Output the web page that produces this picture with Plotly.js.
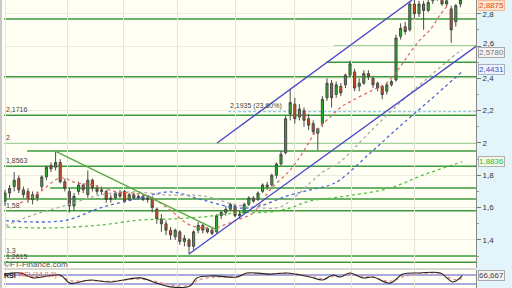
<!DOCTYPE html>
<html><head><meta charset="utf-8">
<script src="https://cdn.plot.ly/plotly-3.0.1.min.js"></script>
<style>html,body{margin:0;padding:0;background:#e3f5fb;}#c{width:512px;height:288px;}</style>
</head><body><div id="c"></div>
<script>
// ---- candle data (index = session) ----
const openP  = [1.64,1.69,1.73,1.78,1.71,1.70,1.65,1.68,1.73,1.79,1.86,1.85,1.88,1.76,1.70,1.61,1.70,1.74,1.68,1.77,1.72,1.70,1.70,1.65,1.66,1.69,1.70,1.65,1.68,1.66,1.67,1.65,1.66,1.59,1.53,1.50,1.46,1.42,1.45,1.39,1.40,1.36,1.46,1.49,1.47,1.46,1.45,1.55,1.57,1.59,1.61,1.55,1.57,1.62,1.66,1.65,1.70,1.74,1.74,1.80,1.87,1.94,2.18,2.24,2.16,2.20,2.15,2.12,2.06,2.12,2.28,2.37,2.30,2.35,2.36,2.42,2.44,2.35,2.37,2.43,2.40,2.37,2.35,2.32,2.36,2.39,2.66,2.72,2.70,2.86,2.80,2.86,2.82,2.88,2.92,2.90,2.86,2.83,2.75,2.86];
const highP  = [1.71,1.74,1.82,1.80,1.73,1.72,1.70,1.70,1.80,1.86,1.88,1.95,1.90,1.78,1.72,1.69,1.76,1.75,1.83,1.78,1.74,1.73,1.71,1.68,1.70,1.71,1.71,1.69,1.69,1.68,1.68,1.67,1.67,1.60,1.56,1.52,1.48,1.47,1.46,1.43,1.41,1.46,1.51,1.50,1.48,1.47,1.56,1.58,1.61,1.63,1.62,1.58,1.63,1.67,1.67,1.70,1.75,1.76,1.81,1.88,1.95,2.17,2.33,2.28,2.24,2.22,2.18,2.14,2.09,2.29,2.40,2.39,2.38,2.37,2.43,2.51,2.46,2.40,2.45,2.45,2.41,2.38,2.36,2.37,2.39,2.67,2.74,2.75,2.88,2.89,2.88,2.88,2.90,2.95,2.96,2.92,2.90,2.85,2.86,2.90];
const lowP   = [1.61,1.66,1.70,1.69,1.66,1.63,1.62,1.64,1.71,1.77,1.82,1.83,1.75,1.70,1.57,1.58,1.68,1.69,1.66,1.70,1.68,1.68,1.63,1.63,1.65,1.66,1.63,1.64,1.65,1.65,1.64,1.63,1.57,1.50,1.45,1.43,1.40,1.40,1.37,1.36,1.31,1.34,1.44,1.44,1.44,1.43,1.44,1.53,1.55,1.58,1.54,1.53,1.56,1.61,1.63,1.64,1.69,1.71,1.73,1.78,1.86,1.93,2.14,2.12,2.14,2.10,2.08,2.05,1.955,2.10,2.26,2.22,2.28,2.29,2.34,2.41,2.32,2.32,2.36,2.39,2.34,2.32,2.27,2.30,2.35,2.38,2.64,2.67,2.69,2.77,2.78,2.70,2.81,2.86,2.88,2.85,2.84,2.62,2.72,2.84];
const closeP = [1.69,1.72,1.77,1.71,1.68,1.65,1.68,1.66,1.79,1.85,1.84,1.88,1.76,1.72,1.61,1.67,1.74,1.71,1.77,1.72,1.70,1.71,1.65,1.66,1.69,1.67,1.64,1.68,1.66,1.67,1.65,1.66,1.60,1.53,1.50,1.46,1.43,1.46,1.39,1.41,1.36,1.45,1.49,1.46,1.45,1.44,1.55,1.57,1.59,1.62,1.55,1.56,1.62,1.66,1.64,1.69,1.74,1.73,1.80,1.87,1.93,2.15,2.25,2.15,2.21,2.14,2.11,2.07,2.09,2.27,2.37,2.28,2.36,2.31,2.42,2.49,2.34,2.37,2.43,2.41,2.36,2.34,2.30,2.36,2.38,2.65,2.71,2.69,2.86,2.80,2.86,2.82,2.87,2.92,2.90,2.86,2.88,2.70,2.85,2.8875];

// ---- moving averages (sampled readings: session index, value) ----
const maRedX  = [3.3,7.6,12.0,15.7,19.1,24.3,27.8,31.5,35.9,40.2,45.2,50.4,53.9,57.6,62.0,64.8,67.8,70.7,72.8,75.7,80.0,83.0,85.9,88.0,90.2,92.4,94.6,96.3];
const maRedY  = [1.628,1.697,1.783,1.752,1.740,1.697,1.690,1.666,1.585,1.492,1.474,1.523,1.567,1.709,1.833,1.944,2.080,2.161,2.217,2.266,2.328,2.372,2.471,2.557,2.638,2.700,2.793,2.854];
const maGreyX = [-1.1,6.1,13.5,20.7,27.8,35.2,43.0,50.4,55.4,59.8,63.5,66.3,69.1,72.8,79.3,86.5,92.4,98.5,99.4];
const maGreyY = [1.474,1.554,1.616,1.678,1.697,1.678,1.672,1.616,1.598,1.604,1.678,1.752,1.820,1.882,2.068,2.266,2.415,2.560,2.578];
const maBlueX = [-1.1,6.1,13.5,20.7,29.4,35.9,43.0,50.4,55.4,61.3,66.3,70.7,72.8,79.4,85.9,92.4,99.4];
const maBlueY = [1.523,1.511,1.523,1.598,1.659,1.697,1.647,1.598,1.610,1.672,1.709,1.740,1.771,1.938,2.105,2.266,2.4431];
const maGreenX = [0.4,9.8,20.7,29.4,35.9,43.0,50.4,57.6,62.0,66.3,72.8,83.7,90.9,99.4];
const maGreenY = [1.480,1.474,1.492,1.523,1.529,1.542,1.567,1.573,1.598,1.641,1.666,1.721,1.802,1.8836];

// ---- RSI panel ----
const rsiX = [-1.1,3.3,6.1,12,14.1,18.5,22.8,29.3,33,35.9,40.2,41.7,45.2,50.4,52.6,57.6,61.3,66.3,69.1,71.3,72.8,75,77.8,80,83.7,86.5,90.2,94.6,97.4,99.4];
const rsiY = [70,79,57,70,34,48,39,57,34,17,21,57,66,61,79,74,79,61,48,70,61,79,57,61,34,74,79,79,39,66.667];
const sigY = [72,75,63,66,45,45,42,52,40,25,24,45,60,63,72,75,77,66,54,64,63,73,62,60,42,62,75,77,50,55];
const rsiLevels = [70,30];

// ---- levels & trendlines ----
const fullLevels = [2.768,2.41,2.1716,1.8563,1.653,1.58,1.3,1.2615];
const lightLevels = [2.0];
const partLevels = [2.6,2.5,1.95,1.721];
const partStart  = [71.5,69.8,4.8,9.8];
const partLight  = [true,false,false,false];
const levelLabels = ['2,1716','2','1,8563','1,58','1,3','1,2615'];
const levelLabelVals = [2.1716,2.0,1.8563,1.58,1.3,1.2615];
const fibLevel = 2.1935, fibStart = 48.5, fibText = '2,1935 (23,60%)';
const chanUpperX = [46.1,88.5], chanUpperY = [2.0,2.885];
const chanLowerX = [40.0,102.4], chanLowerY = [1.313,2.598];
const downTrendX = [10.9,46.1], downTrendY = [1.95,1.461];
const monthTicks = [0.2,13.5,25.7,37.4,50.2,63.0,75.4,89.1];
const yTicks = [1.4,1.6,1.8,2.0,2.2,2.4,2.6,2.8];
const yTickText = ['1,4','1,6','1,8','2','2,2','2,4','','2,8'];

const idx = closeP.map((_, i) => i);
const XR = [-0.217, 102.39];
const dash = '3px,3px';
const traces = [
  {type:'scatter',mode:'lines',x:maGreenX,y:maGreenY,line:{color:'#55c044',width:1.3,dash:dash,shape:'spline'},hoverinfo:'skip'},
  {type:'scatter',mode:'lines',x:maBlueX,y:maBlueY,line:{color:'#4a66dd',width:1.3,dash:dash,shape:'spline'},hoverinfo:'skip'},
  {type:'scatter',mode:'lines',x:maGreyX,y:maGreyY,line:{color:'#aaaaaa',width:1.3,dash:dash,shape:'spline'},hoverinfo:'skip'},
  {type:'scatter',mode:'lines',x:maRedX,y:maRedY,line:{color:'#e06a6a',width:1.3,dash:dash,shape:'spline'},hoverinfo:'skip'},
  {type:'candlestick',x:idx,open:openP,high:highP,low:lowP,close:closeP,whiskerwidth:0,
   increasing:{line:{color:'#4a4a4a',width:1},fillcolor:'#22b422'},
   decreasing:{line:{color:'#4a4a4a',width:1},fillcolor:'#d4481e'},hoverinfo:'skip'},
  {type:'scatter',mode:'lines',x:rsiX,y:sigY,yaxis:'y2',line:{color:'#e88a8a',width:1.3,dash:dash,shape:'spline'},hoverinfo:'skip'},
  {type:'scatter',mode:'lines',x:rsiX,y:rsiY,yaxis:'y2',line:{color:'#222',width:1.1,shape:'spline'},hoverinfo:'skip'}
];

const shapes = [];
const G = '#3d9a3d', GL = '#7cc47c';
fullLevels.forEach(v => shapes.push({type:'line',xref:'paper',yref:'y',x0:0,x1:1,y0:v,y1:v,line:{color:G,width:1.5},layer:'below'}));
lightLevels.forEach(v => shapes.push({type:'line',xref:'paper',yref:'y',x0:0,x1:1,y0:v,y1:v,line:{color:GL,width:1.5},layer:'below'}));
partLevels.forEach((v,k) => shapes.push({type:'line',xref:'x',yref:'y',x0:partStart[k],x1:XR[1],y0:v,y1:v,line:{color:partLight[k]?GL:G,width:1.5},layer:'below'}));
shapes.push({type:'line',xref:'x',yref:'y',x0:fibStart,x1:XR[1],y0:fibLevel,y1:fibLevel,line:{color:'#8cc8ec',width:1.2,dash:'3px,2px'},layer:'below'});
shapes.push({type:'line',xref:'x',yref:'y',x0:chanUpperX[0],x1:chanUpperX[1],y0:chanUpperY[0],y1:chanUpperY[1],line:{color:'#4646c8',width:1.3}});
shapes.push({type:'line',xref:'x',yref:'y',x0:chanLowerX[0],x1:chanLowerX[1],y0:chanLowerY[0],y1:chanLowerY[1],line:{color:'#4646c8',width:1.3}});
shapes.push({type:'line',xref:'x',yref:'y',x0:downTrendX[0],x1:downTrendX[1],y0:downTrendY[0],y1:downTrendY[1],line:{color:'#55aa44',width:1.3}});
rsiLevels.forEach(v => shapes.push({type:'line',xref:'paper',yref:'y2',x0:0,x1:1,y0:v,y1:v,line:{color:'#5555cc',width:1.2},layer:'below'}));
shapes.push({type:'rect',xref:'paper',yref:'paper',x0:-0.0085,x1:1,y0:0.0625,y1:0.0694,fillcolor:'#d6d6d6',line:{width:0}});
shapes.push({type:'rect',xref:'paper',yref:'paper',x0:-0.0085,x1:-0.004,y0:0,y1:1,fillcolor:'#c8c8c8',line:{width:0}});
shapes.push({type:'rect',xref:'paper',yref:'paper',x0:-0.004,x1:0,y0:0,y1:1,fillcolor:'#fffff4',line:{width:0}});

const F = 'Liberation Sans, Arial, sans-serif';
const ann = [];
levelLabels.forEach((t,k) => ann.push({xref:'paper',yref:'y',x:0,y:levelLabelVals[k],text:t,showarrow:false,xanchor:'left',yanchor:'bottom',yshift:0,font:{family:F,size:7,color:'#444'}}));
ann.push({xref:'x',yref:'y',x:fibStart,y:fibLevel,text:fibText,showarrow:false,xanchor:'left',yanchor:'bottom',font:{family:F,size:7,color:'#444'}});
function box(yref,y,text,color,bg,border,ya,ys){
  return {xref:'paper',yref:yref,x:1,y:y,text:text,showarrow:false,xanchor:'left',yanchor:ya||'middle',xshift:2,yshift:ys||0,
    font:{family:F,size:8,color:color},bgcolor:bg,bordercolor:border,borderwidth:1,borderpad:0};
}
// the 2,6 tick label sits just above the 2,5780 value box
ann.push({xref:'paper',yref:'y',x:1,y:2.6,text:'2,6',showarrow:false,xanchor:'left',yanchor:'middle',xshift:5,yshift:3,font:{family:F,size:8,color:'#333'}});
ann.push(box('paper',1,'2,8875','#e0501e','#fde2cc','#f2b898','top'));
ann.push(box('y',2.578,'2,5780','#777','#f3f3f3','#a8a8a8','middle',-3));
ann.push(box('y',2.4431,'2,4431','#3355cc','#eef2fc','#a8b0c8','middle',2));
ann.push(box('y',1.8836,'1,8836','#33b833','#f2f8ea','#b0b0b0'));
ann.push(box('y2',66.667,'66,667','#444','#f3f3f3','#a8a8a8'));
ann.push({xref:'paper',yref:'paper',x:-0.004,y:0.083,text:'©FT-Finance.com',showarrow:false,xanchor:'left',yanchor:'middle',font:{family:F,size:8,color:'#555'}});
ann.push({xref:'paper',yref:'paper',x:-0.004,y:0.045,text:'<b>RSI</b>',showarrow:false,xanchor:'left',yanchor:'middle',font:{family:F,size:7,color:'#222'}});
ann.push({xref:'paper',yref:'paper',x:0.028,y:0.045,text:'RSI (14,0,0)',showarrow:false,xanchor:'left',yanchor:'middle',font:{family:F,size:7,color:'#e06060'}});

const layout = {
  width:512,height:288,margin:{l:4,r:36,t:0,b:0},
  paper_bgcolor:'#e3f5fb',plot_bgcolor:'#fffff4',showlegend:false,separators:', ',
  boxgap:0.35,
  xaxis:{range:XR,tickvals:monthTicks,showticklabels:false,ticks:'',showgrid:true,gridcolor:'#e6e6d8',gridwidth:1,zeroline:false,rangeslider:{visible:false},fixedrange:true},
  yaxis:{domain:[0.0694,1],range:[1.226,2.885],side:'right',tickvals:yTicks,ticktext:yTickText,ticks:'outside',ticklen:4,tickcolor:'#777',
    showgrid:true,gridcolor:'#ececdf',zeroline:false,showline:true,linecolor:'#888',
    minor:{dtick:0.1,tick0:0,ticks:'outside',ticklen:2,tickcolor:'#999',showgrid:false},
    tickfont:{family:F,size:8,color:'#333'},fixedrange:true},
  yaxis2:{domain:[0,0.0625],range:[12.2,92.2],side:'right',anchor:'x',showticklabels:false,ticks:'',showgrid:false,zeroline:false,showline:true,linecolor:'#888',fixedrange:true},
  shapes:shapes,annotations:ann
};
Plotly.newPlot('c',traces,layout,{staticPlot:true,displayModeBar:false});
</script></body></html>
